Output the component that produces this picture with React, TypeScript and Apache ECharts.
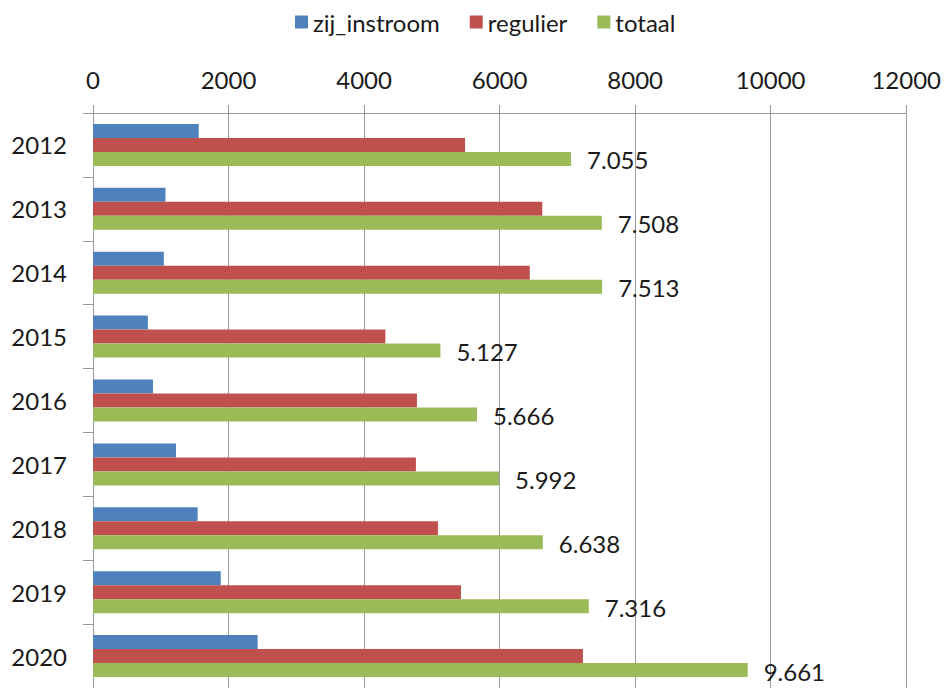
import React, { useEffect, useRef } from "react";
import * as echarts from "echarts";

const years = ["2012", "2013", "2014", "2015", "2016", "2017", "2018", "2019", "2020"];
const zijInstroom = [1560, 1070, 1045, 810, 885, 1225, 1545, 1885, 2430];
const regulier = [5490, 6630, 6445, 4315, 4780, 4765, 5090, 5430, 7230];
const totaal = [7055, 7508, 7513, 5127, 5666, 5992, 6638, 7316, 9661];
const seriesNames = ["zij_instroom", "regulier", "totaal"];
const xTicks = { min: 0, max: 12000, interval: 2000 };

const FONT = "Lato, 'Liberation Sans', sans-serif";
const TEXT = "#1a1a1a";
const GRID = "#9a9a9a";

const nlFormat = (v: number) => String(v).replace(/\B(?=(\d{3})+(?!\d))/g, ".");

export default function App() {
  const ref = useRef<HTMLDivElement>(null);
  useEffect(() => {
    if (!ref.current) return;
    const chart = echarts.init(ref.current, undefined, { renderer: "svg" });
    chart.setOption({
      animation: false,
      backgroundColor: "#ffffff",
      textStyle: { fontFamily: FONT },
      legend: {
        data: seriesNames,
        left: 290,
        top: 5,
        itemWidth: 13,
        itemHeight: 13,
        itemGap: 30,
        icon: "rect",
        textStyle: { fontFamily: FONT, fontSize: 24, color: TEXT },
      },
      grid: { left: 93, right: 35, top: 113, height: 579, containLabel: false },
      xAxis: {
        type: "value",
        position: "top",
        min: xTicks.min,
        max: xTicks.max,
        interval: xTicks.interval,
        axisLine: { show: true, lineStyle: { color: GRID, width: 1 } },
        axisTick: { show: true, length: 8, lineStyle: { color: GRID } },
        splitLine: { show: true, lineStyle: { color: GRID, width: 1 } },
        axisLabel: {
          fontFamily: FONT,
          fontSize: 24,
          color: TEXT,
          margin: 22,
          formatter: (v: number) => String(v),
        },
      },
      yAxis: {
        type: "category",
        data: years,
        inverse: true,
        axisLine: { show: true, lineStyle: { color: GRID, width: 1 } },
        axisTick: { show: true, length: 10, lineStyle: { color: GRID } },
        splitLine: { show: false },
        axisLabel: { fontFamily: FONT, fontSize: 24, color: TEXT, margin: 26 },
      },
      series: [
        {
          name: seriesNames[0],
          type: "bar",
          data: zijInstroom,
          barWidth: 14,
          barGap: "0%",
          itemStyle: { color: "#4F81BD" },
        },
        {
          name: seriesNames[1],
          type: "bar",
          data: regulier,
          barWidth: 14,
          barGap: "0%",
          itemStyle: { color: "#C0504D" },
        },
        {
          name: seriesNames[2],
          type: "bar",
          data: totaal,
          barWidth: 14,
          barGap: "0%",
          itemStyle: { color: "#9BBB59" },
          label: {
            show: true,
            position: "right",
            distance: 16,
            fontFamily: FONT,
            fontSize: 24,
            color: TEXT,
            offset: [0, 1],
            formatter: (p: any) => nlFormat(p.value),
          },
        },
      ],
    });
    return () => chart.dispose();
  }, []);
  return (
    <div
      ref={ref}
      style={{ position: "fixed", left: 0, top: 0, width: 944, height: 688, background: "#fff" }}
    />
  );
}
